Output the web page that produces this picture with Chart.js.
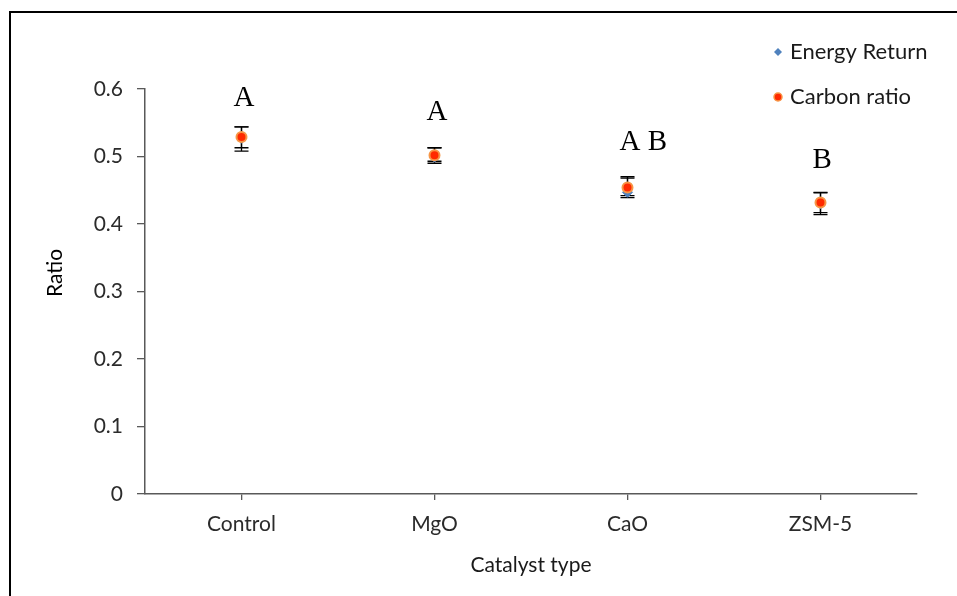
<!DOCTYPE html>
<html><head><meta charset="utf-8">
<script src="https://cdn.jsdelivr.net/npm/chart.js@4/dist/chart.umd.min.js"></script>
<style>
html,body{margin:0;padding:0;background:#fff;}
#wrap{position:relative;width:957px;height:596px;overflow:hidden;}
#frame{position:absolute;left:9px;top:11px;width:2000px;height:2000px;border-left:2px solid #000;border-top:2px solid #000;pointer-events:none;}
canvas{display:block;}
</style></head><body>
<div id="wrap"><canvas id="c" width="957" height="596"></canvas><div id="frame"></div></div>
<script>
const categories = ['Control', 'MgO', 'CaO', 'ZSM-5'];
const energyReturn = [0.527, 0.499, 0.447, 0.430];
const energyHigh   = [0.544, 0.513, 0.468, 0.446];
const energyLow    = [0.508, 0.490, 0.439, 0.414];
const carbonRatio  = [0.529, 0.502, 0.454, 0.432];
const carbonHigh   = [0.544, 0.513, 0.470, 0.447];
const carbonLow    = [0.513, 0.493, 0.442, 0.417];
const groupLetters = ['A', 'A', 'A B', 'B'];
const letterLevels = [0.589, 0.568, 0.524, 0.497];
const yTickValues  = [0, 0.1, 0.2, 0.3, 0.4, 0.5, 0.6];
const seriesNames  = ['Energy Return', 'Carbon ratio'];

const FONT = 'Lato, "Open Sans", sans-serif';
const TXT = '#2b2b2b';
const AXIS = '#595959';

const errorBars = {
  id: 'errorBars',
  beforeDatasetsDraw(chart) {
    const {ctx, scales: {x, y}} = chart;
    const sets = [[energyHigh, energyLow], [carbonHigh, carbonLow]];
    ctx.save();
    ctx.strokeStyle = '#000';
    ctx.lineWidth = 1.3;
    sets.forEach(([hi, lo]) => {
      categories.forEach((c, i) => {
        const px = x.getPixelForValue(i);
        const yh = y.getPixelForValue(hi[i]);
        const yl = y.getPixelForValue(lo[i]);
        ctx.beginPath();
        ctx.moveTo(px, yh); ctx.lineTo(px, yl);
        ctx.moveTo(px - 7, yh); ctx.lineTo(px + 7, yh);
        ctx.moveTo(px - 7, yl); ctx.lineTo(px + 7, yl);
        ctx.stroke();
      });
    });
    ctx.restore();
  }
};

const extras = {
  id: 'extras',
  afterDraw(chart) {
    const {ctx, scales: {x, y}} = chart;
    ctx.save();
    // group letters
    ctx.font = '29px "Liberation Serif", "Times New Roman", serif';
    ctx.fillStyle = '#000';
    ctx.textAlign = 'left';
    ctx.textBaseline = 'alphabetic';
    groupLetters.forEach((t, i) => {
      ctx.fillText(t, x.getPixelForValue(i) - 8, y.getPixelForValue(letterLevels[i]) + 9.5);
    });
    // y axis title
    ctx.save();
    ctx.translate(55, 273);
    ctx.rotate(-Math.PI / 2);
    ctx.font = '21px ' + FONT;
    ctx.fillStyle = '#000';
    ctx.textAlign = 'center';
    ctx.textBaseline = 'middle';
    ctx.fillText('Ratio', 0, 0);
    ctx.restore();
    // legend
    const lx = 778, ly = [52, 97];
    ctx.fillStyle = '#4F81BD';
    ctx.beginPath();
    ctx.moveTo(lx, ly[0] - 4); ctx.lineTo(lx + 4, ly[0]); ctx.lineTo(lx, ly[0] + 4); ctx.lineTo(lx - 4, ly[0]);
    ctx.closePath(); ctx.fill();
    ctx.beginPath();
    ctx.arc(lx, ly[1], 4, 0, Math.PI * 2);
    ctx.fillStyle = '#FF2a00'; ctx.fill();
    ctx.strokeStyle = '#F79646'; ctx.lineWidth = 1.5; ctx.stroke();
    ctx.font = '22px ' + FONT;
    ctx.fillStyle = '#1a1a1a';
    ctx.textAlign = 'left';
    ctx.textBaseline = 'middle';
    ctx.fillText(seriesNames[0], 790, ly[0]);
    ctx.fillText(seriesNames[1], 790, ly[1]);
    ctx.restore();
  }
};

new Chart(document.getElementById('c'), {
  type: 'line',
  data: {
    labels: categories,
    datasets: [
      {
        label: seriesNames[0], data: energyReturn, showLine: false, order: 1,
        pointStyle: 'rectRot', pointRadius: 5, pointBackgroundColor: '#4F81BD', pointBorderColor: '#4F81BD', pointBorderWidth: 1
      },
      {
        label: seriesNames[1], data: carbonRatio, showLine: false, order: 0,
        pointStyle: 'circle', pointRadius: 5, pointBackgroundColor: '#FF2a00', pointBorderColor: '#F79646', pointBorderWidth: 2
      }
    ]
  },
  options: {
    responsive: false,
    animation: false,
    layout: { padding: { left: 0, top: 89, right: 40, bottom: 0 } },
    plugins: { legend: { display: false }, tooltip: { enabled: false } },
    scales: {
      x: {
        type: 'category', offset: true,
        grid: { offset: false, drawOnChartArea: false, drawTicks: true, tickLength: 6, color: AXIS, lineWidth: 1.3 },
        border: { display: true, color: AXIS, width: 1.5 },
        ticks: { color: TXT, font: { family: FONT, size: 21 }, padding: 12 },
        title: { display: true, text: 'Catalyst type', color: '#1a1a1a', font: { family: FONT, size: 21 }, padding: { top: 0, bottom: 18 } },
        afterFit(s) { s.height = 596 - 494; }
      },
      y: {
        min: 0, max: 0.6,
        afterBuildTicks(s) { s.ticks = yTickValues.map(v => ({ value: v })); },
        grid: { drawOnChartArea: false, drawTicks: true, tickLength: 8, color: AXIS, lineWidth: 1.3 },
        border: { display: true, color: AXIS, width: 1.5 },
        ticks: { color: TXT, font: { family: FONT, size: 21 }, padding: 14, callback: v => String(+v.toFixed(1)) },
        afterFit(s) { s.width = 145; }
      }
    }
  },
  plugins: [errorBars, extras]
});
</script>
</body></html>
